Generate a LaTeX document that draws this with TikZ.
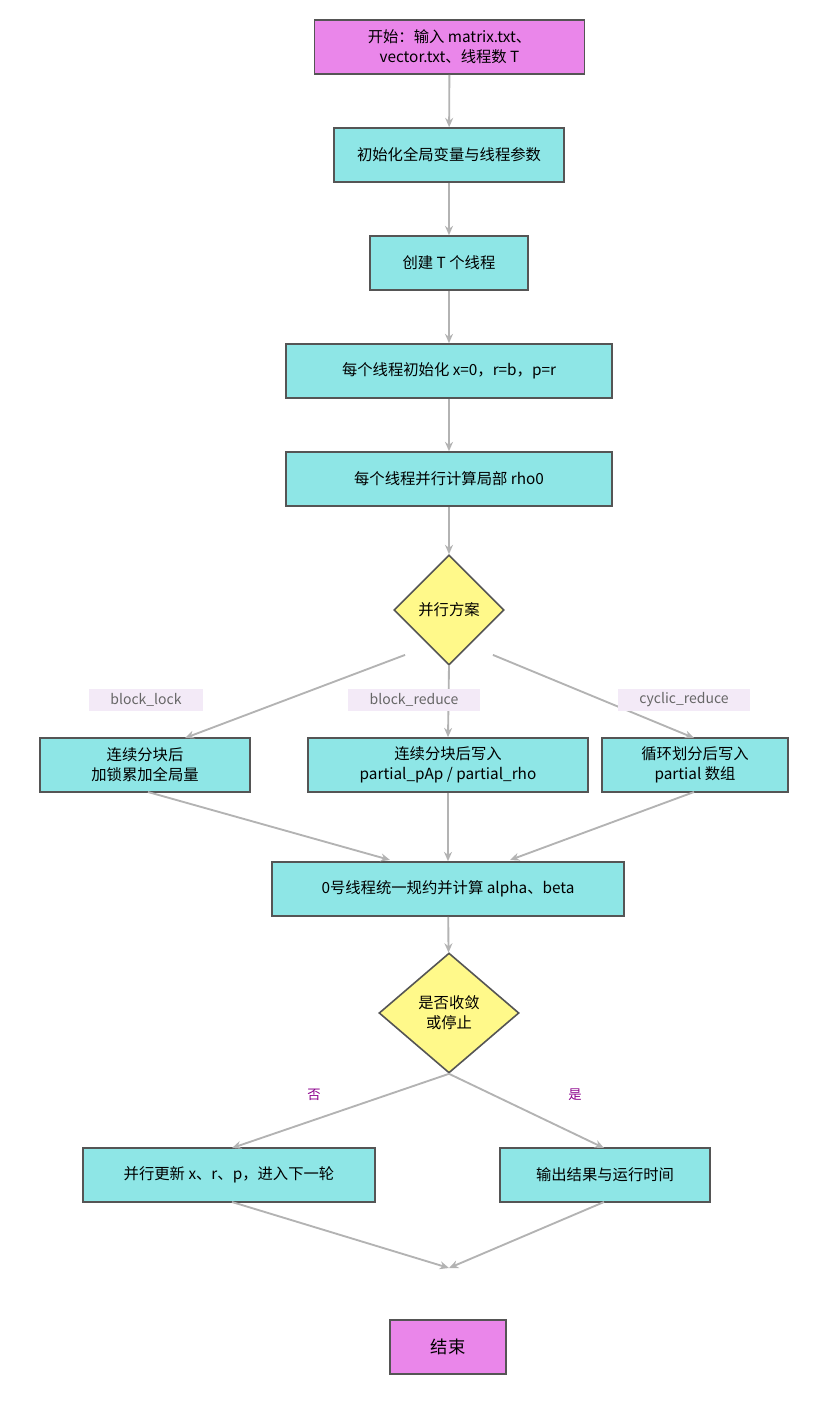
\documentclass[tikz,border=0pt]{standalone}
\usepackage{fontspec}
\setmainfont{Noto Sans CJK SC}
\usetikzlibrary{shapes.geometric,arrows.meta}
\definecolor{boxc}{HTML}{8EE6E6}
\definecolor{startc}{HTML}{EA86EA}
\definecolor{decc}{HTML}{FFF98A}
\definecolor{edgec}{HTML}{B3B3B3}
\definecolor{bordc}{HTML}{555555}
\definecolor{lblbg}{HTML}{F3EAF7}
\definecolor{lbltx}{HTML}{666666}
\definecolor{yn}{HTML}{8B008B}
\begin{document}
\begin{tikzpicture}[x=0.75pt,y=-0.75pt,
  box/.style={draw=bordc,line width=1.2pt,fill=boxc,rectangle,inner sep=0,align=center,font=\fontsize{11.5pt}{15pt}\selectfont},
  term/.style={box,fill=startc},
  dec/.style={draw=bordc,line width=1.2pt,fill=decc,diamond,inner sep=0,align=center,font=\fontsize{11.5pt}{15pt}\selectfont},
  arr/.style={draw=edgec,line width=1.4pt,-{Stealth[length=7pt,width=6pt]}},
  lbl/.style={fill=lblbg,text=lbltx,font=\fontsize{10.5pt}{12pt}\selectfont,inner xsep=16pt,inner ysep=3pt},
  yl/.style={text=yn,font=\fontsize{10pt}{12pt}\selectfont}]
\useasboundingbox (0,0) rectangle (828,1420);
\node[term,minimum width=202.5pt,minimum height=40.5pt] (start) at (449.5,47) {开始：输入 matrix.txt、\\vector.txt、线程数 T};
\node[box,minimum width=172.5pt,minimum height=40.5pt] (init) at (449,155) {初始化全局变量与线程参数};
\node[box,minimum width=118.5pt,minimum height=40.5pt] (create) at (449,263) {创建 T 个线程};
\node[box,minimum width=244.5pt,minimum height=40.5pt] (tinit) at (449,371) {每个线程初始化 x=0，r=b，p=r};
\node[box,minimum width=244.5pt,minimum height=40.5pt] (rho) at (449,479) {每个线程并行计算局部 rho0};
\node[dec,minimum width=82.5pt,minimum height=82.5pt] (d1) at (449,610) {并行方案};
\node[box,minimum width=157.5pt,minimum height=40.5pt] (lock) at (145,765) {连续分块后\\加锁累加全局量};
\node[box,minimum width=210pt,minimum height=40.5pt] (red) at (448,765) {连续分块后写入\\partial\_pAp / partial\_rho};
\node[box,minimum width=139.5pt,minimum height=40.5pt] (cyc) at (695,765) {循环划分后写入\\partial 数组};
\node[box,minimum width=264pt,minimum height=40.5pt] (all) at (448,889) {0号线程统一规约并计算 alpha、beta};
\node[dec,minimum width=105pt,minimum height=90pt] (d2) at (449,1013) {是否收敛\\或停止};
\node[box,minimum width=219pt,minimum height=40.5pt] (upd) at (229,1175) {并行更新 x、r、p，进入下一轮};
\node[box,minimum width=157.5pt,minimum height=40.5pt] (out) at (605,1175) {输出结果与运行时间};
\node[term,minimum width=87pt,minimum height=40.5pt,font=\fontsize{13pt}{15pt}\selectfont] (end) at (448,1347) {结束};
\coordinate (m) at (449,1268);
\draw[arr] (start) -- (init);
\draw[arr] (init) -- (create);
\draw[arr] (create) -- (tinit);
\draw[arr] (tinit) -- (rho);
\draw[arr] (rho) -- (d1);
\draw[arr] (d1.south west) ++(-16,17) -- (185,738);
\path (d1.south west) ++(-16,17) coordinate (d1a);
\path (d1.south east) ++(16,17) coordinate (d1b);
\draw[arr] (d1.south) -- (red.north);
\draw[arr] (d1b) -- (694,738);
\node[lbl] (l1) at (146,700) {block\_lock};
\node[lbl] (l2) at (414,700) {block\_reduce};
\node[lbl] (l3) at (684,700) {cyclic\_reduce};
\draw[arr] (148,792) -- (390,860);
\draw[arr] (red) -- (all);
\draw[arr] (694,792) -- (510,860);
\draw[arr] (all) -- (d2);
\draw[arr] (d2.south) -- (232,1148);
\draw[arr] (d2.south) -- (604,1148);
\node[yl] (no) at (314,1095) {否};
\node[yl] (yes) at (575,1095) {是};
\draw[arr] (232,1202) -- (m);
\draw[arr] (604,1202) -- (m);
\end{tikzpicture}
\end{document}
